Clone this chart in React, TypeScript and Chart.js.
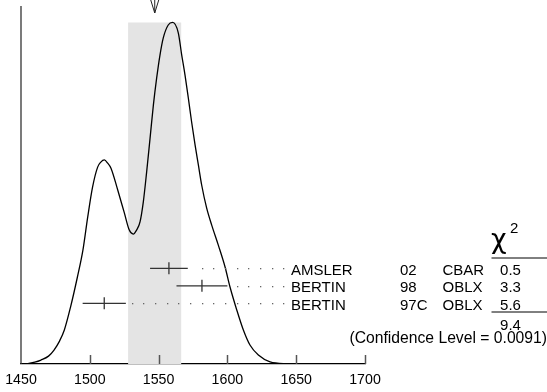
import React, { useEffect, useRef } from "react";
import { Chart, registerables } from "chart.js";

Chart.register(...registerables);

// Ideogram curve (mass in MeV, relative height)
const curveX = [1450, 1455, 1460, 1464.5, 1470, 1474, 1478, 1481.5, 1486, 1491, 1495, 1498.5, 1502, 1505.7, 1508, 1510.6, 1513, 1515.4, 1520.3, 1525.1, 1528.7, 1531.6, 1534, 1536.5, 1538.9, 1541.3, 1543.8, 1546.2, 1548.6, 1551, 1553.4, 1557, 1560.2, 1564.3, 1566.8, 1569.2, 1571.6, 1574, 1576.5, 1578.9, 1581.3, 1584.9, 1588.6, 1593.4, 1598.3, 1601.9, 1606.8, 1611.6, 1616.4, 1622.5, 1631, 1643, 1660, 1700];
const curveY = [0, 0.1, 0.5, 1.1, 2.2, 3.9, 6.4, 9.5, 15.9, 24.3, 31.8, 41.1, 49.4, 55.0, 56.4, 57.0, 56.1, 54.7, 48.6, 42.2, 37.4, 36.3, 37.4, 39.7, 45.3, 53.6, 63.1, 72.3, 79.9, 86.3, 91.1, 94.7, 95.4, 92.5, 86.3, 80.7, 74.3, 67.6, 61.2, 55.6, 50.0, 43.6, 38.8, 33.2, 27.1, 21.5, 15.1, 9.5, 5.3, 2.5, 0.6, 0.1, 0, 0];

const fitMean = 1547.2;
const fitError = 19.4;

const measNames = ["AMSLER", "BERTIN", "BERTIN"];
const measYears = ["02", "98", "97C"];
const measTech = ["CBAR", "OBLX", "OBLX"];
const measValues = [1557.5, 1581.5, 1510.5];
const measErrors = [13.7, 18.5, 15.7];
const chi2Values = ["0.5", "3.3", "5.6"];
const chi2Total = "9.4";
const confidenceLevel = "0.0091";
const xTicks = [1450, 1500, 1550, 1600, 1650, 1700];

const FONT = '"Liberation Sans", Arial, Helvetica, sans-serif';

const overlay = {
  id: "ideogramOverlay",
  afterDatasetsDraw(chart: any) {
    const { ctx, chartArea, scales } = chart;
    const x = scales.x;
    ctx.save();

    // left axis line
    ctx.strokeStyle = "#333";
    ctx.lineWidth = 1.3;
    ctx.beginPath();
    ctx.moveTo(chartArea.left, chartArea.top);
    ctx.lineTo(chartArea.left, chartArea.bottom);
    ctx.stroke();

    // inward tick marks
    ctx.strokeStyle = "#555";
    ctx.lineWidth = 1.5;
    xTicks.slice(1).forEach((t) => {
      const px = Math.round(x.getPixelForValue(t)) + 0.5;
      ctx.beginPath();
      ctx.moveTo(px, chartArea.bottom);
      ctx.lineTo(px, chartArea.bottom - 9);
      ctx.stroke();
    });

    // arrow marking the fitted value
    const ax = x.getPixelForValue(fitMean);
    ctx.strokeStyle = "#222";
    ctx.lineWidth = 1;
    ctx.beginPath();
    ctx.moveTo(ax, 0);
    ctx.lineTo(ax, 13);
    ctx.moveTo(ax - 4, 0);
    ctx.lineTo(ax, 13);
    ctx.lineTo(ax + 4, 0);
    ctx.stroke();

    // measurements
    const row0 = 268.3;
    const rowStep = 17.5;
    const dotAnchor = 283.3;
    const dotStep = 11.67;
    measValues.forEach((v, i) => {
      const ry = row0 + rowStep * i;
      const lo = x.getPixelForValue(v - measErrors[i]);
      const hi = x.getPixelForValue(v + measErrors[i]);
      const c = x.getPixelForValue(v);
      // dotted leader
      ctx.fillStyle = "#666";
      for (let dx = dotAnchor; dx >= hi + 5; dx -= dotStep) {
        ctx.fillRect(Math.round(dx), Math.round(ry), 1.3, 1.3);
      }
      ctx.strokeStyle = "#333";
      ctx.lineWidth = 1.3;
      ctx.beginPath();
      ctx.moveTo(lo, ry);
      ctx.lineTo(hi, ry);
      ctx.moveTo(c, ry - 6);
      ctx.lineTo(c, ry + 6);
      ctx.stroke();

      // text columns
      const by = ry + 6.5;
      ctx.fillStyle = "#000";
      ctx.font = `15px ${FONT}`;
      ctx.textBaseline = "alphabetic";
      ctx.textAlign = "left";
      ctx.fillText(measNames[i], 291, by);
      ctx.fillText(measYears[i], 400, by);
      ctx.fillText(measTech[i], 442.5, by);
      ctx.textAlign = "center";
      ctx.fillText(chi2Values[i], 510.5, by);
    });

    // chi^2 header
    ctx.textAlign = "left";
    ctx.font = `27px "DejaVu Sans", ${FONT}`;
    ctx.fillText("\u03c7", 491, 248);
    ctx.font = `15px ${FONT}`;
    ctx.fillText("2", 510, 232.7);

    ctx.strokeStyle = "#000";
    ctx.lineWidth = 1;
    ctx.beginPath();
    ctx.moveTo(491.5, 258);
    ctx.lineTo(547, 258);
    ctx.moveTo(491.5, 312);
    ctx.lineTo(547, 312);
    ctx.stroke();

    ctx.textAlign = "center";
    ctx.fillText(chi2Total, 510.5, 330);
    ctx.textAlign = "right";
    ctx.font = `15.7px ${FONT}`;
    ctx.fillText(`(Confidence Level = ${confidenceLevel})`, 547, 343);

    ctx.restore();
  },
};

export default function App() {
  const ref = useRef<HTMLCanvasElement>(null);

  useEffect(() => {
    const bandTop = Math.max(...curveY);
    const lo = fitMean - fitError;
    const hi = fitMean + fitError;
    const chart = new Chart(ref.current as HTMLCanvasElement, {
      type: "line",
      data: {
        datasets: [
          {
            data: curveX.map((v, i) => ({ x: v, y: curveY[i] })),
            borderColor: "#000",
            borderWidth: 1.3,
            pointRadius: 0,
            cubicInterpolationMode: "monotone",
            fill: false,
          },
          {
            data: [
              { x: lo, y: 0 },
              { x: lo, y: bandTop },
              { x: hi, y: bandTop },
              { x: hi, y: 0 },
            ],
            borderWidth: 0,
            borderColor: "rgba(0,0,0,0)",
            backgroundColor: "#e4e4e4",
            pointRadius: 0,
            tension: 0,
            fill: "origin",
          },
        ],
      },
      options: {
        animation: false,
        responsive: false,
        events: [],
        layout: { padding: { left: 21, right: 182, top: 6, bottom: 0 } },
        plugins: { legend: { display: false }, tooltip: { enabled: false } },
        scales: {
          x: {
            type: "linear",
            min: 1450,
            max: 1700,
            afterBuildTicks: (scale: any) => {
              scale.ticks = xTicks.map((v) => ({ value: v }));
            },
            afterFit: (scale: any) => {
              scale.height = 28;
            },
            ticks: {
              autoSkip: false,
              maxRotation: 0,
              padding: 5,
              color: "#000",
              font: { family: FONT, size: 14.2, lineHeight: 1.6 },
              callback: (v: any) => String(v),
            },
            grid: { display: false, drawTicks: false },
            border: { display: true, color: "#000", width: 1.3 },
          },
          y: { display: false, min: 0, max: 100 },
        },
      },
      plugins: [overlay],
    } as any);
    return () => chart.destroy();
  }, []);

  return (
    <div style={{ position: "absolute", left: 0, top: 0, width: 547, height: 392, background: "#fff" }}>
      <canvas ref={ref} width={547} height={392} style={{ display: "block", width: 547, height: 392 }} />
    </div>
  );
}
